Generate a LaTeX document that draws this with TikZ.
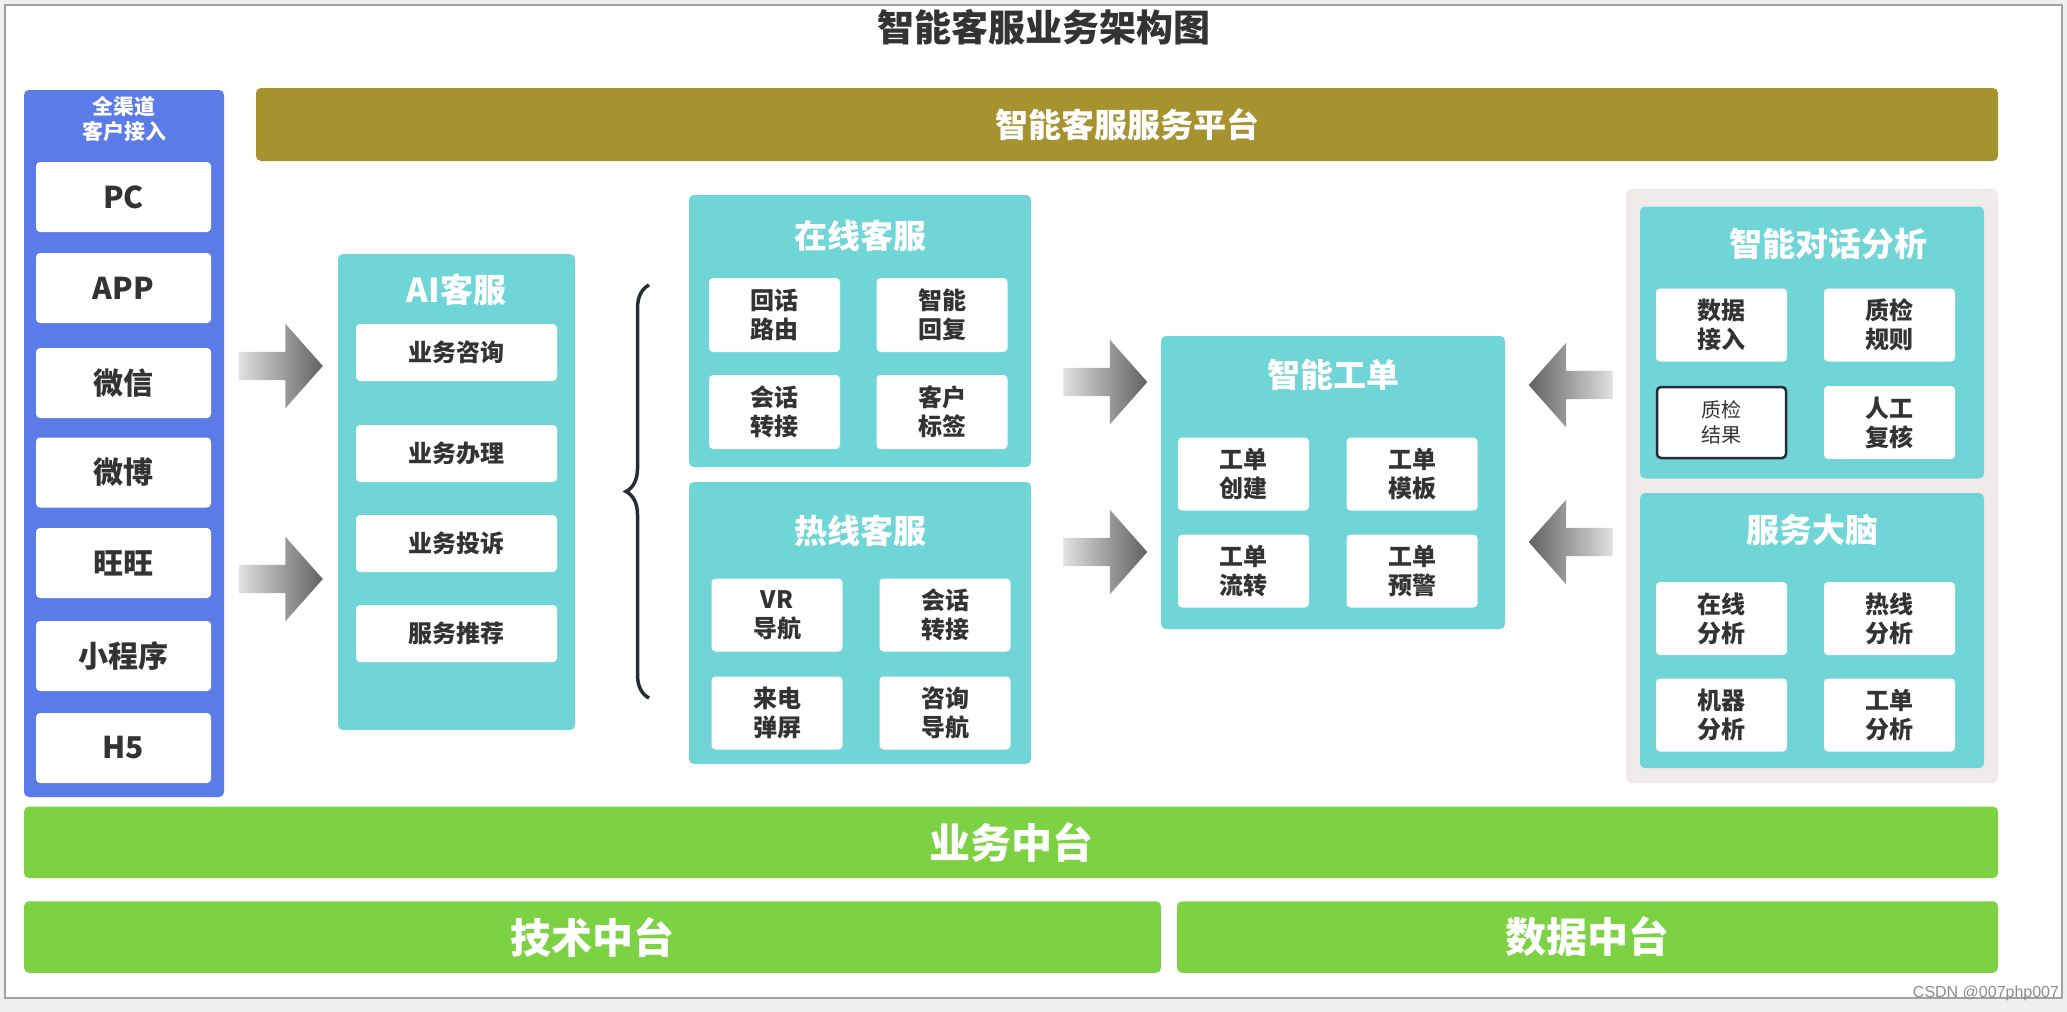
\documentclass[tikz,border=0pt]{standalone}
\usepackage{fontspec}
\setmainfont{Noto Sans CJK SC}
\newfontfamily\wmfont{Liberation Sans}
\usetikzlibrary{shapes.arrows,decorations.pathreplacing}
\definecolor{bgray}{HTML}{F0F0F0}
\definecolor{frameg}{HTML}{A0A0A0}
\definecolor{chblue}{HTML}{5B7BE8}
\definecolor{platolive}{HTML}{A79230}
\definecolor{tealp}{HTML}{70D5D7}
\definecolor{greenp}{HTML}{7DD244}
\definecolor{graypan}{HTML}{EFEBEA}
\definecolor{txt}{HTML}{333333}
\definecolor{bracec}{HTML}{262C35}
\begin{document}
\begin{tikzpicture}[x=1pt,y=-1pt,
  panel/.style={fill=tealp, rounded corners=5, inner sep=0, draw=none},
  ptitle/.style={text=white, font=\fontsize{33}{38}\selectfont\bfseries, inner sep=0},
  item/.style={fill=white, rounded corners=4, inner sep=0, text=txt, align=center,
     font=\fontsize{24}{29}\selectfont\bfseries},
  chan/.style={fill=white, rounded corners=4, inner sep=0, text=txt,
     minimum width=175, minimum height=70, font=\fontsize{30}{34}\selectfont\bfseries},
  bar/.style={rounded corners=5, inner sep=0, text=white, font=\fontsize{41}{46}\selectfont\bfseries},
  fatbase/.style={single arrow, draw=none, minimum height=84, minimum width=84,
     single arrow head extend=28, single arrow tip angle=97,
     inner xsep=0, inner ysep=14, text height=0, text depth=0},
  fatR/.style={fatbase, left color=black!12, right color=black!62},
  fatL/.style={fatbase, shape border rotate=180, left color=black!62, right color=black!12}
]
\fill[bgray] (0,0) rectangle (2067,1012);
\useasboundingbox (0,0) rectangle (2067,1012);
\fill[white, draw=frameg, line width=1.5] (5,5) rectangle (2062,998);

% title
\node[text=txt, font=\fontsize{37}{42}\selectfont\bfseries, inner sep=0] (title) at (1044,27) {智能客服业务架构图};

% left channel panel
\node[fill=chblue, rounded corners=5, inner sep=0, minimum width=200, minimum height=707] (chp) at (124,443.5) {};
\node[text=white, align=center, font=\fontsize{21}{25}\selectfont\bfseries, inner sep=0] (chT) at (124,119) {全渠道\\客户接入};
\node[chan] (pc) at (123.5,197) {PC};
\node[chan] (app) at (123.5,288) {APP};
\node[chan] (wx) at (123.5,383) {微信};
\node[chan] (wb) at (123.5,472.5) {微博};
\node[chan] (ww) at (123.5,563) {旺旺};
\node[chan] (xcx) at (123.5,656) {小程序};
\node[chan] (h5) at (123.5,748) {H5};

% platform bar
\node[bar, fill=platolive, minimum width=1742, minimum height=73, font=\fontsize{33}{38}\selectfont\bfseries] (plat) at (1127,124.5) {智能客服服务平台};

% arrows from channels
\node[fatR] (a1) at (274.5,366) {};
\node[fatR] (a2) at (274.5,579) {};

% AI panel
\node[panel, minimum width=237, minimum height=476] (ai) at (456.5,492) {};
\node[ptitle] (aiT) at (456.5,290) {AI客服};
\node[item, minimum width=201, minimum height=57] (ai1) at (456.5,352.5) {业务咨询};
\node[item, minimum width=201, minimum height=57] (ai2) at (456.5,453.5) {业务办理};
\node[item, minimum width=201, minimum height=57] (ai3) at (456.5,543.5) {业务投诉};
\node[item, minimum width=201, minimum height=57] (ai4) at (456.5,633.5) {服务推荐};

% brace
\coordinate (brA) at (649,698);
\coordinate (brB) at (649,285);
\draw[bracec, line width=3.5, decorate, decoration={brace, amplitude=23}] (brA) -- (brB);

% online panel
\node[panel, minimum width=342, minimum height=272] (on) at (860,331) {};
\node[ptitle] (onT) at (860,236) {在线客服};
\node[item, minimum width=131, minimum height=74] (on1) at (774.5,315) {回话\\路由};
\node[item, minimum width=131, minimum height=74] (on2) at (942,315) {智能\\回复};
\node[item, minimum width=131, minimum height=74] (on3) at (774.5,412) {会话\\转接};
\node[item, minimum width=131, minimum height=74] (on4) at (942,412) {客户\\标签};

% hotline panel
\node[panel, minimum width=342, minimum height=282] (hl) at (860,623) {};
\node[ptitle] (hlT) at (860,531) {热线客服};
\node[item, minimum width=131, minimum height=73] (hl1) at (777,615) {VR\\导航};
\node[item, minimum width=131, minimum height=73] (hl2) at (945,615) {会话\\转接};
\node[item, minimum width=131, minimum height=73] (hl3) at (777,713) {来电\\弹屏};
\node[item, minimum width=131, minimum height=73] (hl4) at (945,713) {咨询\\导航};

% middle arrows
\node[fatR] (a3) at (1099,382) {};
\node[fatR] (a4) at (1099,552) {};

% ticket panel
\node[panel, minimum width=344, minimum height=293] (tk) at (1333,482.5) {};
\node[ptitle] (tkT) at (1333,374.5) {智能工单};
\node[item, minimum width=131, minimum height=73] (tk1) at (1243.5,474) {工单\\创建};
\node[item, minimum width=131, minimum height=73] (tk2) at (1412,474) {工单\\模板};
\node[item, minimum width=131, minimum height=73] (tk3) at (1243.5,571) {工单\\流转};
\node[item, minimum width=131, minimum height=73] (tk4) at (1412,571) {工单\\预警};

% right arrows
\node[fatL] (a5) at (1577,385) {};
\node[fatL] (a6) at (1577,542) {};

% right gray panel
\node[fill=graypan, rounded corners=6, inner sep=0, minimum width=372, minimum height=594.5] (gp) at (1812,485.75) {};
\node[panel, minimum width=344, minimum height=272] (dl) at (1812,342.5) {};
\node[ptitle] (dlT) at (1828,244) {智能对话分析};
\node[item, minimum width=131, minimum height=73] (dl1) at (1721.5,325) {数据\\接入};
\node[item, minimum width=131, minimum height=73] (dl2) at (1889.5,325) {质检\\规则};
\node[item, minimum width=129, minimum height=71, draw=bracec, line width=2.5,
      font=\fontsize{20}{25}\selectfont] (dl3) at (1721.5,422.5) {质检\\结果};
\node[item, minimum width=131, minimum height=73] (dl4) at (1889.5,422.5) {人工\\复核};

\node[panel, minimum width=344, minimum height=275] (br) at (1812,630.7) {};
\node[ptitle] (brT) at (1812,530) {服务大脑};
\node[item, minimum width=131, minimum height=73] (br1) at (1721.5,618.5) {在线\\分析};
\node[item, minimum width=131, minimum height=73] (br2) at (1889.5,618.5) {热线\\分析};
\node[item, minimum width=131, minimum height=73] (br3) at (1721.5,715) {机器\\分析};
\node[item, minimum width=131, minimum height=73] (br4) at (1889.5,715) {工单\\分析};

% bottom bars
\node[bar, fill=greenp, minimum width=1974, minimum height=71.5] (yw) at (1011,842.3) {业务中台};
\node[bar, fill=greenp, minimum width=1137, minimum height=71.5] (js) at (592.5,937) {技术中台};
\node[bar, fill=greenp, minimum width=821, minimum height=71.5] (sj) at (1587.5,937) {数据中台};

% watermark
\node[text=black!45, font=\wmfont\fontsize{16}{18}\selectfont, inner sep=0] (wm) at (1986,993) {CSDN @007php007};
\end{tikzpicture}
\end{document}
